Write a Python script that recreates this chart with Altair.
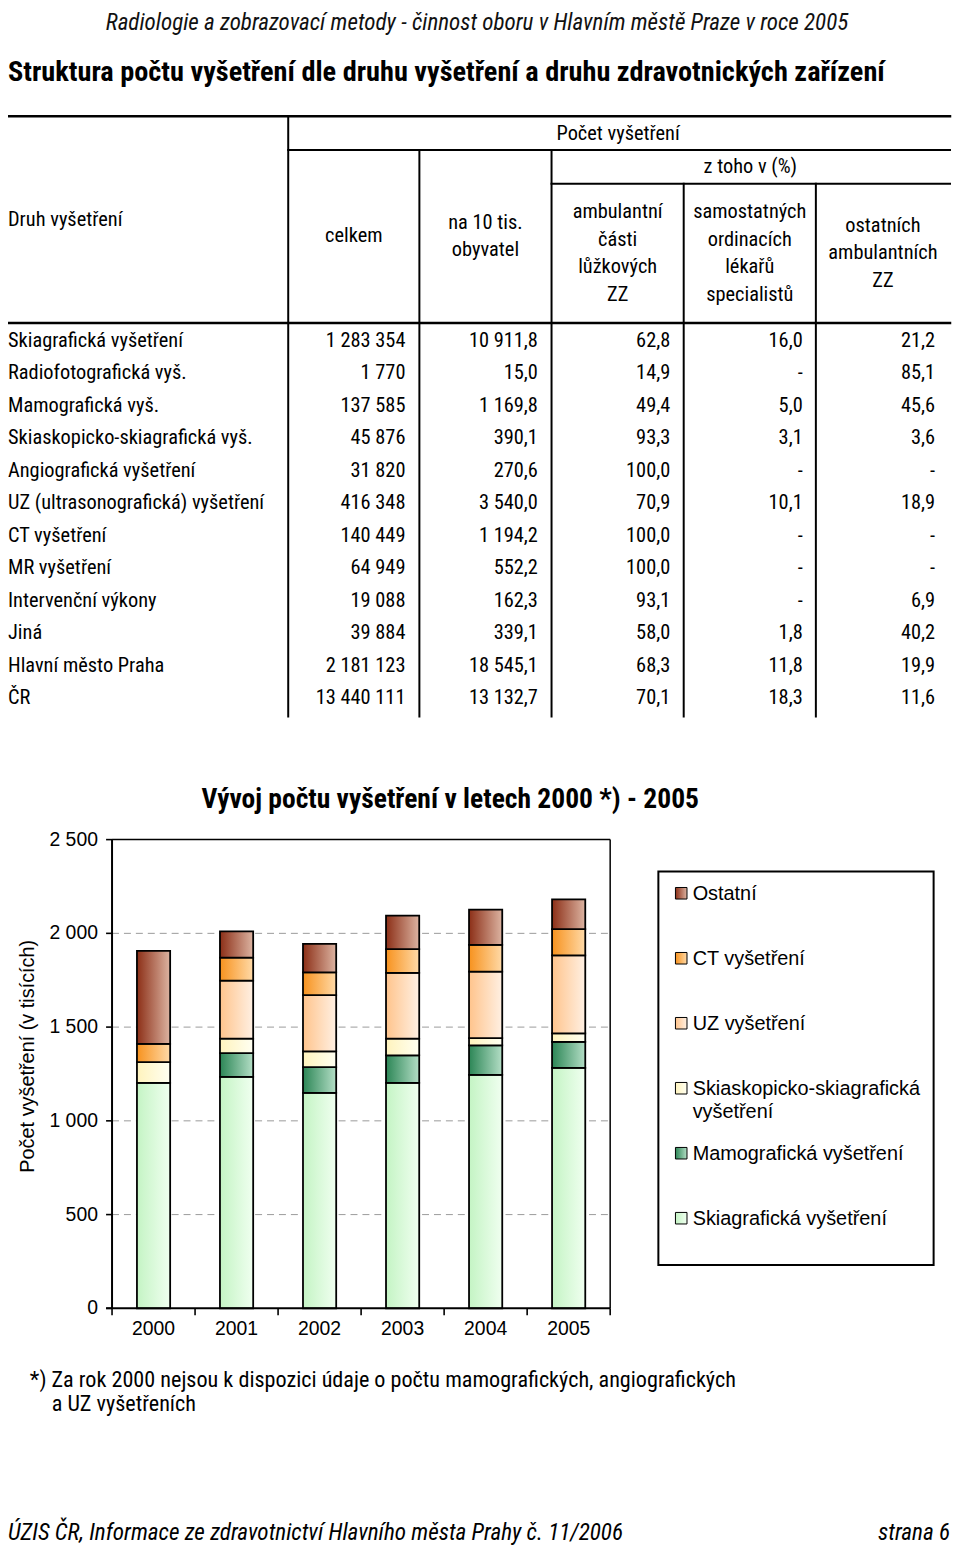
import altair as alt
import pandas as pd

# ---------------- data ----------------
HEADER = "Radiologie a zobrazovací metody - činnost oboru v Hlavním městě Praze v roce 2005"
TITLE = "Struktura počtu vyšetření dle druhu vyšetření a druhu zdravotnických zařízení"

head_group = "Počet vyšetření"
head_sub = "z toho v (%)"
head_first = "Druh vyšetření"
head_cells = ["celkem", "na 10 tis.\nobyvatel", "ambulantní\nčásti\nlůžkových\nZZ",
              "samostatných\nordinacích\nlékařů\nspecialistů", "ostatních\nambulantních\nZZ"]

row_labels = ["Skiagrafická vyšetření", "Radiofotografická vyš.", "Mamografická vyš.",
              "Skiaskopicko-skiagrafická vyš.", "Angiografická vyšetření",
              "UZ (ultrasonografická) vyšetření", "CT vyšetření", "MR vyšetření",
              "Intervenční výkony", "Jiná", "Hlavní město Praha", "ČR"]
celkem = ["1 283 354", "1 770", "137 585", "45 876", "31 820", "416 348", "140 449",
          "64 949", "19 088", "39 884", "2 181 123", "13 440 111"]
na_10_tis = ["10 911,8", "15,0", "1 169,8", "390,1", "270,6", "3 540,0", "1 194,2",
             "552,2", "162,3", "339,1", "18 545,1", "13 132,7"]
ambulantni = ["62,8", "14,9", "49,4", "93,3", "100,0", "70,9", "100,0", "100,0",
              "93,1", "58,0", "68,3", "70,1"]
samostatnych = ["16,0", "-", "5,0", "3,1", "-", "10,1", "-", "-", "-", "1,8", "11,8", "18,3"]
ostatnich = ["21,2", "85,1", "45,6", "3,6", "-", "18,9", "-", "-", "6,9", "40,2", "19,9", "11,6"]

years = ["2000", "2001", "2002", "2003", "2004", "2005"]
skiagraficka = [1202, 1234, 1149, 1202, 1245, 1283]
mamograficka = [0, 127, 138, 147, 157, 138]
skiaskopicka = [111, 78, 83, 90, 39, 46]
uz_vys = [0, 309, 300, 350, 355, 416]
ct_vys = [97, 123, 122, 127, 143, 140]
ostatni = [497, 140, 152, 178, 187, 158]

series_names = ["Skiagrafická vyšetření", "Mamografická vyšetření",
                "Skiaskopicko-skiagrafická vyšetření", "UZ vyšetření", "CT vyšetření", "Ostatní"]
series_values = [skiagraficka, mamograficka, skiaskopicka, uz_vys, ct_vys, ostatni]
legend_labels = ["Skiagrafická vyšetření", "Mamografická vyšetření",
                 "Skiaskopicko-skiagrafická\nvyšetření", "UZ vyšetření", "CT vyšetření", "Ostatní"]

y_ticks = [0, 500, 1000, 1500, 2000, 2500]
y_tick_labels = ["0", "500", "1 000", "1 500", "2 000", "2 500"]
grid_values = [500, 1000, 1500, 2000]

CHART_TITLE = "Vývoj počtu vyšetření v letech 2000 *) - 2005"
Y_TITLE = "Počet vyšetření (v tisících)"
FOOTNOTE_1 = "*) Za rok 2000 nejsou k dispozici údaje o počtu mamografických, angiografických"
FOOTNOTE_2 = "a UZ vyšetřeních"
FOOTER_LEFT = "ÚZIS ČR, Informace ze zdravotnictví Hlavního města Prahy č. 11/2006"
FOOTER_RIGHT = "strana 6"

# ---------------- layout / style ----------------
OFF = 8
def px(v):
    return v - OFF

W, H = 950, 1540
NARROW = "Roboto Condensed, DejaVu Sans Condensed, Liberation Sans Narrow, Arial Narrow"
ARIAL = "Liberation Sans, Arial, Helvetica, sans-serif"
TBL_SIZE = 20.5

FILLS = {
    "Skiagrafická vyšetření": ("#c4f4c4", "#f0fff0"),
    "Mamografická vyšetření": ("#2c8656", "#b4dec6"),
    "Skiaskopicko-skiagrafická vyšetření": ("#fff3bd", "#fffff2"),
    "UZ vyšetření": ("#ffc48c", "#fff0e3"),
    "CT vyšetření": ("#f7921e", "#ffdaa8"),
    "Ostatní": ("#8c2f17", "#dcb4a2"),
}


def grad(c1, c2):
    return alt.Gradient(gradient="linear",
                        stops=[alt.GradientStop(color=c1, offset=0),
                               alt.GradientStop(color=c2, offset=1)],
                        x1=0, x2=1, y1=0, y2=0)


def text_item(s, x, y, size, font=ARIAL, weight="normal", style="normal",
              align="left", angle=0, color="#000000"):
    kw = dict(align=align, baseline="middle", font=font, fontSize=size,
              fontWeight=weight, fontStyle=style, color=color)
    if angle:
        kw["angle"] = angle
    return alt.Chart(pd.DataFrame({"t": [s]})).mark_text(**kw).encode(
        text="t:N", x=alt.value(px(x)), y=alt.value(px(y)))


def rule(x1, y1, x2, y2, w=2.0, color="#000000"):
    return alt.Chart(pd.DataFrame({"a": [0]})).mark_rule(
        color=color, strokeWidth=w, strokeCap="square").encode(
        x=alt.value(px(x1)), x2=alt.value(px(x2)),
        y=alt.value(px(y1)), y2=alt.value(px(y2)))


layers = []

# ---------------- page texts ----------------
layers.append(text_item(HEADER, 480, 18, 23.2, font=NARROW, style="italic", align="center",
                        color="#111111"))
layers.append(text_item(TITLE, 8, 68, 28.5, font=NARROW, weight="bold"))

# ---------------- table grid ----------------
layers += [
    rule(8, 112, 956, 112, 2.5),
    rule(290, 146, 956, 146, 2),
    rule(555, 180, 956, 180, 2),
    rule(8, 320, 956, 320, 2.5),
    rule(290, 112, 290, 716, 2),
    rule(422, 146, 422, 716, 2),
    rule(555, 146, 555, 716, 2),
    rule(688, 180, 688, 716, 2),
    rule(821, 180, 821, 716, 2),
]

# ---------------- table header ----------------
layers.append(text_item(head_group, 622, 129.5, TBL_SIZE, font=NARROW, align="center"))
layers.append(text_item(head_sub, 755, 163, TBL_SIZE, font=NARROW, align="center"))
layers.append(text_item(head_first, 8, 216, TBL_SIZE, font=NARROW))
cell_boxes = [(290, 422, 146, 320), (422, 555, 146, 320), (555, 688, 180, 320),
              (688, 821, 180, 320), (821, 956, 180, 320)]
LH = 27.7
for txt, (xa, xb, ya, yb) in zip(head_cells, cell_boxes):
    lines = txt.split("\n")
    n = len(lines)
    cx, cy = (xa + xb) / 2, (ya + yb) / 2
    for i, ln in enumerate(lines):
        layers.append(text_item(ln, cx, cy + (i - (n - 1) / 2) * LH, TBL_SIZE,
                                font=NARROW, align="center"))

# ---------------- table body ----------------
row_scale = alt.Scale(domain=row_labels, range=[px(338), px(698)], padding=0)
value_keys = ["celkem", "na10", "amb", "sam", "ost"]
value_cols = [celkem, na_10_tis, ambulantni, samostatnych, ostatnich]
recs = []
for k, col in zip(value_keys, value_cols):
    for r, v in zip(row_labels, col):
        recs.append({"row": r, "col": k, "val": v})
tbl_df = pd.DataFrame(recs)
col_scale = alt.Scale(domain=value_keys, range=[px(408), px(941)], padding=0)

layers.append(alt.Chart(pd.DataFrame({"row": row_labels})).mark_text(
    align="left", baseline="middle", font=NARROW, fontSize=TBL_SIZE, color="#000000").encode(
    x=alt.value(px(8)),
    y=alt.Y("row:N", scale=row_scale, axis=None),
    text="row:N"))
layers.append(alt.Chart(tbl_df).mark_text(
    align="right", baseline="middle", font=NARROW, fontSize=TBL_SIZE, color="#000000").encode(
    x=alt.X("col:N", scale=col_scale, axis=None),
    y=alt.Y("row:N", scale=row_scale, axis=None),
    text="val:N"))

# ---------------- bar chart ----------------
X0, X1 = 112.7, 614.0
Y0, Y1 = 1311.7, 840.0
y_val = alt.Scale(domain=[0, 2500], range=[px(Y0), px(Y1)], nice=False, zero=False)
x_band = alt.Scale(domain=years, range=[px(X0), px(X1)], paddingInner=0.6, paddingOuter=0.3)
x_bound = alt.Scale(domain=[0, len(years)], range=[px(X0), px(X1)], nice=False, zero=False)

layers.append(text_item(CHART_TITLE, 453, 800, 27.7, font=NARROW, weight="bold", align="center"))

# gridlines
layers.append(alt.Chart(pd.DataFrame({"v": grid_values})).mark_rule(
    color="#9a9a9a", strokeWidth=1, strokeDash=[7, 5]).encode(
    y=alt.Y("v:Q", scale=y_val, axis=None),
    x=alt.value(px(X0)), x2=alt.value(px(X1))))

# stacked bars with horizontal gradients
order_map = {s: i for i, s in enumerate(series_names)}
brecs = []
for s, vals in zip(series_names, series_values):
    for yr, v in zip(years, vals):
        if v > 0:
            brecs.append({"year": yr, "series": s, "value": v, "order": order_map[s]})
bar_df = pd.DataFrame(brecs)
stacked = alt.Chart(bar_df).transform_stack(
    stack="value", groupby=["year"], as_=["v0", "v1"],
    sort=[alt.SortField("order", order="ascending")])
for s in series_names:
    c1, c2 = FILLS[s]
    layers.append(stacked.transform_filter(alt.datum.series == s).mark_bar(
        fill=grad(c1, c2), stroke="#000000", strokeWidth=1.8).encode(
        x=alt.X("year:N", scale=x_band, axis=None),
        y=alt.Y("v0:Q", scale=y_val, axis=None),
        y2="v1:Q"))

# plot frame
frame_df = pd.DataFrame({"a": [0], "b": [2500]})
layers.append(alt.Chart(frame_df).mark_rule(color="#000000", strokeWidth=1.5).encode(
    x=alt.value(px(X1)), y=alt.Y("a:Q", scale=y_val, axis=None), y2="b:Q"))
layers.append(alt.Chart(pd.DataFrame({"v": [2500]})).mark_rule(color="#000000", strokeWidth=1.5).encode(
    y=alt.Y("v:Q", scale=y_val, axis=None), x=alt.value(px(X0)), x2=alt.value(px(X1))))
# axes lines
layers.append(alt.Chart(frame_df).mark_rule(color="#000000", strokeWidth=2).encode(
    x=alt.value(px(X0)), y=alt.Y("a:Q", scale=y_val, axis=None), y2="b:Q"))
layers.append(alt.Chart(pd.DataFrame({"v": [0]})).mark_rule(color="#000000", strokeWidth=2).encode(
    y=alt.Y("v:Q", scale=y_val, axis=None), x=alt.value(px(X0 - 6)), x2=alt.value(px(X1))))
# y ticks + labels
layers.append(alt.Chart(pd.DataFrame({"v": y_ticks})).mark_rule(color="#000000", strokeWidth=1.6).encode(
    y=alt.Y("v:Q", scale=y_val, axis=None), x=alt.value(px(X0 - 6)), x2=alt.value(px(X0))))
layers.append(alt.Chart(pd.DataFrame({"v": y_ticks, "lab": y_tick_labels})).mark_text(
    align="right", baseline="middle", font=ARIAL, fontSize=19.5, color="#000000").encode(
    y=alt.Y("v:Q", scale=y_val, axis=None), x=alt.value(px(98.5)), text="lab:N"))
# x ticks + labels
layers.append(alt.Chart(pd.DataFrame({"b": list(range(len(years) + 1))})).mark_rule(
    color="#000000", strokeWidth=1.6).encode(
    x=alt.X("b:Q", scale=x_bound, axis=None), y=alt.value(px(Y0)), y2=alt.value(px(Y0 + 7))))
layers.append(alt.Chart(pd.DataFrame({"year": years})).mark_text(
    align="center", baseline="middle", font=ARIAL, fontSize=19.5, color="#000000").encode(
    x=alt.X("year:N", scale=x_band, axis=None, bandPosition=0.5),
    y=alt.value(px(1333)), text="year:N"))
# y title
layers.append(text_item(Y_TITLE, 28, 1058, 20, align="center", angle=270))

# legend
layers.append(alt.Chart(pd.DataFrame({"a": [0]})).mark_rect(
    fill="#ffffff", stroke="#000000", strokeWidth=2).encode(
    x=alt.value(px(662.5)), x2=alt.value(px(939.5)),
    y=alt.value(px(872)), y2=alt.value(px(1268))))
legend_order = list(reversed(series_names))
leg_scale = alt.Scale(domain=legend_order, range=[px(894), px(1221)], padding=0)
for s in series_names:
    c1, c2 = FILLS[s]
    layers.append(alt.Chart(pd.DataFrame({"series": [s]})).mark_square(
        size=135, fill=grad(c1, c2), stroke="#000000", strokeWidth=1, filled=True, opacity=1).encode(
        y=alt.Y("series:N", scale=leg_scale, axis=None), x=alt.value(px(685.5))))
layers.append(alt.Chart(pd.DataFrame({"series": series_names, "lab": legend_labels})).mark_text(
    align="left", baseline="top", dy=-9, font=ARIAL, fontSize=20, lineBreak="\n",
    lineHeight=23, color="#000000").encode(
    y=alt.Y("series:N", scale=leg_scale, axis=None), x=alt.value(px(697)), text="lab:N"))

# footnote and footer
layers.append(text_item(FOOTNOTE_1, 30, 1384, 22.3, font=NARROW))
layers.append(text_item(FOOTNOTE_2, 52, 1408, 22.3, font=NARROW))
layers.append(text_item(FOOTER_LEFT, 8, 1538, 23.3, font=NARROW, style="italic"))
layers.append(text_item(FOOTER_RIGHT, 956, 1538, 23.3, font=NARROW, style="italic", align="right"))

chart = alt.layer(*layers).properties(
    width=W, height=H, padding=0,
    autosize=alt.AutoSizeParams(type="none"),
).resolve_scale(x="independent", y="independent").configure_view(stroke=None)

chart.save("out.html", embed_options={"renderer": "svg", "actions": False})
